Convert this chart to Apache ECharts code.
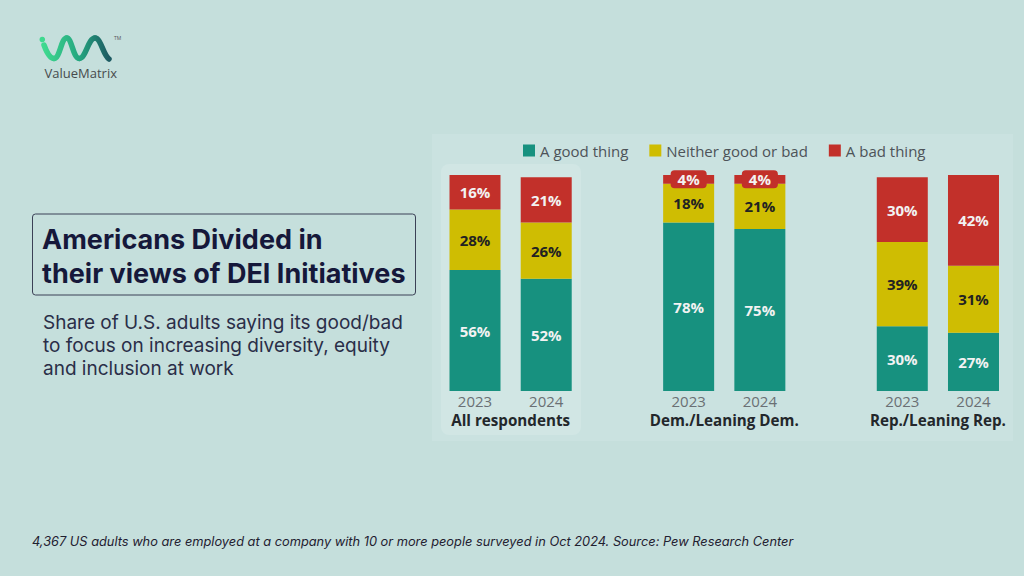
<!DOCTYPE html>
<html>
<head>
<meta charset="utf-8">
<script src="https://cdn.jsdelivr.net/npm/echarts@6/dist/echarts.min.js"></script>
<style>
  html, body { margin: 0; padding: 0; background: #c5dfdc; }
  #main { width: 1024px; height: 576px; }
</style>
</head>
<body>
<div id="main"></div>
<script>
// chart data
var years = ['2023', '2024', '', '2023', '2024', '', '2023', '2024'];
var groups = ['All respondents', 'Dem./Leaning Dem.', 'Rep./Leaning Rep.'];
var goodThing = [56, 52, '-', 78, 75, '-', 30, 27];
var neither = [28, 26, '-', 18, 21, '-', 39, 31];
var badThing = [16, 21, '-', 4, 4, '-', 30, 42];

var TEAL = '#17917f';
var YELLOW = '#cfbd02';
var RED = '#c2302a';

var chart = echarts.init(document.getElementById('main'), null, { renderer: 'svg' });

function pctLabel(color) {
  return {
    show: true,
    position: 'inside',
    formatter: '{c}%',
    color: color,
    fontFamily: 'Open Sans',
    fontWeight: 'bold',
    fontSize: 15
  };
}

// tiny segments get a little red badge so the label fits
var badData = badThing.map(function (v) {
  if (v !== '-' && v < 10) {
    return {
      value: v,
      label: {
        backgroundColor: RED,
        borderRadius: 4,
        padding: [2, 7, 1, 7]
      }
    };
  }
  return v;
});

var option = {
  backgroundColor: '#c5dfdc',
  animation: false,
  legend: {
    top: 138,
    left: 518,
    itemWidth: 12,
    itemHeight: 12,
    itemGap: 21,
    icon: 'rect',
    textStyle: {
      fontFamily: 'Open Sans',
      fontSize: 15,
      color: '#4d5358'
    },
    data: ['A good thing', 'Neither good or bad', 'A bad thing']
  },
  grid: {
    left: 439.4,
    right: 14.9,
    top: 175,
    bottom: 185
  },
  xAxis: {
    type: 'category',
    data: years,
    axisLine: { show: false },
    axisTick: { show: false },
    axisLabel: {
      margin: 2,
      color: '#6a7074',
      fontFamily: 'Open Sans',
      fontSize: 15
    }
  },
  yAxis: {
    type: 'value',
    min: 0,
    max: 100,
    show: false
  },
  series: [
    {
      name: 'A good thing',
      type: 'bar',
      stack: 'total',
      barWidth: 51,
      itemStyle: { color: TEAL },
      label: pctLabel('#f2f2f2'),
      data: goodThing
    },
    {
      name: 'Neither good or bad',
      type: 'bar',
      stack: 'total',
      barWidth: 51,
      itemStyle: { color: YELLOW },
      label: pctLabel('#222222'),
      data: neither
    },
    {
      name: 'A bad thing',
      type: 'bar',
      stack: 'total',
      barWidth: 51,
      itemStyle: { color: RED },
      label: pctLabel('#f2f2f2'),
      data: badData
    }
  ]
};

chart.setOption(option);

// group labels under each pair of bars, placed with the axis scale
var groupLabels = groups.map(function (name, i) {
  var a = chart.convertToPixel({ xAxisIndex: 0 }, i * 3);
  var b = chart.convertToPixel({ xAxisIndex: 0 }, i * 3 + 1);
  return {
    type: 'text',
    x: (a + b) / 2,
    y: 420,
    style: {
      text: name,
      align: 'center',
      verticalAlign: 'middle',
      fill: '#23272b',
      font: 'bold 15.2px "Open Sans"'
    },
    z: 10
  };
});

// logo wave, drawn as bezier pieces with one shared gradient
var waveGrad = new echarts.graphic.LinearGradient(44, 0, 109, 0, [
  { offset: 0, color: '#3fd98f' },
  { offset: 0.55, color: '#24a57f' },
  { offset: 1, color: '#1d5a62' }
], true);
var waveSegs = [
  [44, 45, 48, 56, 51, 58.5, 54, 58.5],
  [54, 58.5, 60, 58.5, 61, 38, 66.7, 38],
  [66.7, 38, 72, 38, 73, 58.5, 79.3, 58.5],
  [79.3, 58.5, 86, 58.5, 88, 38, 95, 38],
  [95, 38, 101, 38, 103, 55, 109, 59]
].map(function (s) {
  return {
    type: 'bezierCurve',
    shape: { x1: s[0], y1: s[1], cpx1: s[2], cpy1: s[3], cpx2: s[4], cpy2: s[5], x2: s[6], y2: s[7] },
    style: { fill: null, stroke: waveGrad, lineWidth: 5.5, lineCap: 'round' }
  };
});

chart.setOption({
  graphic: [
    // chart panel
    {
      type: 'rect', z: -10,
      shape: { x: 432, y: 134, width: 581, height: 307 },
      style: { fill: '#cae2e0' }
    },
    {
      type: 'rect', z: -9,
      shape: { x: 441, y: 164, width: 140, height: 271, r: 8 },
      style: { fill: '#d1e6e4' }
    },
    // title box
    {
      type: 'rect',
      shape: { x: 32.5, y: 214, width: 383, height: 81, r: 3 },
      style: { fill: 'none', stroke: '#3b4156', lineWidth: 1 }
    },
    {
      type: 'text',
      x: 42, y: 222,
      style: {
        text: 'Americans Divided in\ntheir views of DEI Initiatives',
        fill: '#15183a',
        font: 'bold 27px Inter',
        lineHeight: 34
      }
    },
    {
      type: 'text',
      x: 43, y: 311,
      style: {
        text: 'Share of U.S. adults saying its good/bad\nto focus on increasing diversity, equity\nand inclusion at work',
        fill: '#2a2e48',
        font: '19px Inter',
        lineHeight: 23
      }
    },
    {
      type: 'text',
      x: 32, y: 541,
      style: {
        text: '4,367 US adults who are employed at a company with 10 or more people surveyed in Oct 2024. Source: Pew Research Center',
        fill: '#1f2030',
        font: 'italic 12.8px Inter',
        verticalAlign: 'middle'
      }
    },
    // logo
    {
      type: 'circle',
      shape: { cx: 42.3, cy: 39.5, r: 2.8 },
      style: { fill: '#3fd98f' }
    },
    {
      type: 'text',
      x: 114, y: 38,
      style: { text: 'TM', fill: '#555', font: '5px "Open Sans"', verticalAlign: 'middle' }
    },
    {
      type: 'text',
      x: 44.5, y: 73,
      style: {
        text: 'ValueMatrix',
        fill: '#474b4d',
        font: '13px "Open Sans"',
        verticalAlign: 'middle'
      }
    }
  ].concat(waveSegs, groupLabels)
});
</script>
</body>
</html>
